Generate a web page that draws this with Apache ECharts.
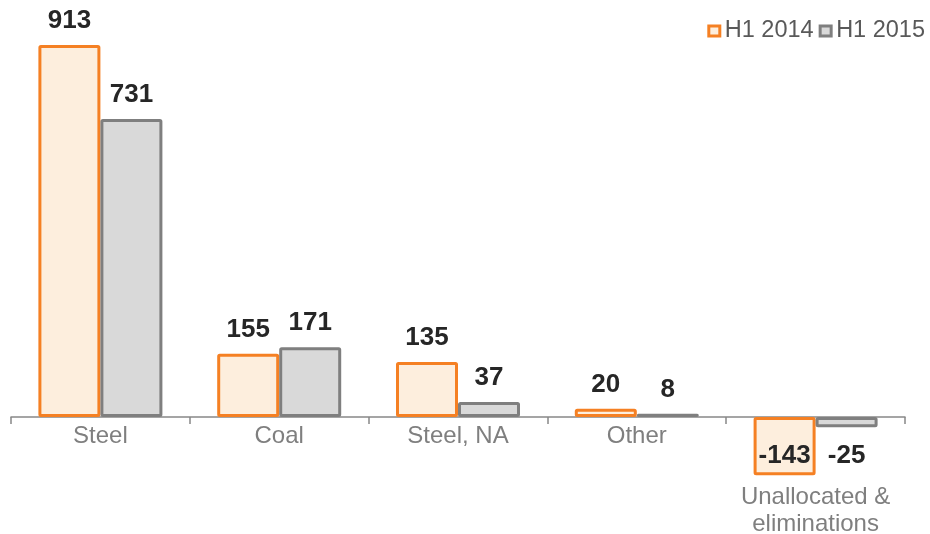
<!DOCTYPE html>
<html>
<head>
<meta charset="utf-8">
<script src="https://cdn.jsdelivr.net/npm/echarts@6/dist/echarts.min.js"></script>
<style>html,body{margin:0;padding:0;background:#fff;}#c{width:930px;height:534px;}</style>
</head>
<body>
<div id="c"></div>
<script>
const categories = ['Steel', 'Coal', 'Steel, NA', 'Other', 'Unallocated &\neliminations'];
const seriesNames = ['H1 2014', 'H1 2015'];
const h1_2014 = [913, 155, 135, 20, -143];
const h1_2015 = [731, 171, 37, 8, -25];

const styles = [
  { border: '#F58023', fill: '#FDEEDD' },
  { border: '#7F7F7F', fill: '#D9D9D9' }
];

function makeData(vals, idx) {
  return vals.map(v => {
    if (v >= 0) return v;
    if (idx === 0) {
      return { value: v, label: { position: 'insideBottom', distance: 6 } };
    }
    return { value: v, label: { position: 'bottom', distance: 16 } };
  });
}

const catData = categories.map((c, i) => {
  const neg = h1_2014[i] < 0 || h1_2015[i] < 0;
  return neg ? { value: c, textStyle: { padding: [61, 0, 0, 0] } } : c;
});

const chart = echarts.init(document.getElementById('c'));
chart.setOption({
  animation: false,
  textStyle: { fontFamily: 'Liberation Sans, Arial, sans-serif' },
  legend: {
    right: 0,
    top: 14,
    itemWidth: 11,
    itemHeight: 10,
    itemGap: 5,
    textStyle: { fontSize: 23.5, color: '#595959' },
    data: seriesNames.map((n, i) => ({
      name: n,
      icon: 'rect',
      itemStyle: { color: styles[i].fill, borderColor: styles[i].border, borderWidth: 3 }
    }))
  },
  grid: { left: 11, right: 25, top: 9.5, bottom: 117, containLabel: false, outerBoundsMode: 'none' },
  xAxis: {
    type: 'category',
    data: catData,
    axisLine: { onZero: false, lineStyle: { color: '#888888', width: 1.5 } },
    axisTick: { show: true, length: 7, lineStyle: { color: '#888888', width: 1.5 } },
    axisLabel: { fontSize: 24, color: '#7F7F7F', margin: 6, interval: 0, lineHeight: 27 }
  },
  yAxis: {
    type: 'value',
    min: 0,
    max: 1000,
    show: false,
    splitLine: { show: false }
  },
  series: [h1_2014, h1_2015].map((vals, i) => ({
    name: seriesNames[i],
    type: 'bar',
    clip: false,
    barWidth: 62,
    barGap: '0%',
    data: makeData(vals, i),
    itemStyle: { color: styles[i].fill, borderColor: styles[i].border, borderWidth: 3, borderRadius: 1 },
    label: {
      show: true,
      position: 'top',
      distance: 11,
      fontSize: 26,
      fontWeight: 'bold',
      color: '#262626'
    }
  }))
});
</script>
</body>
</html>
